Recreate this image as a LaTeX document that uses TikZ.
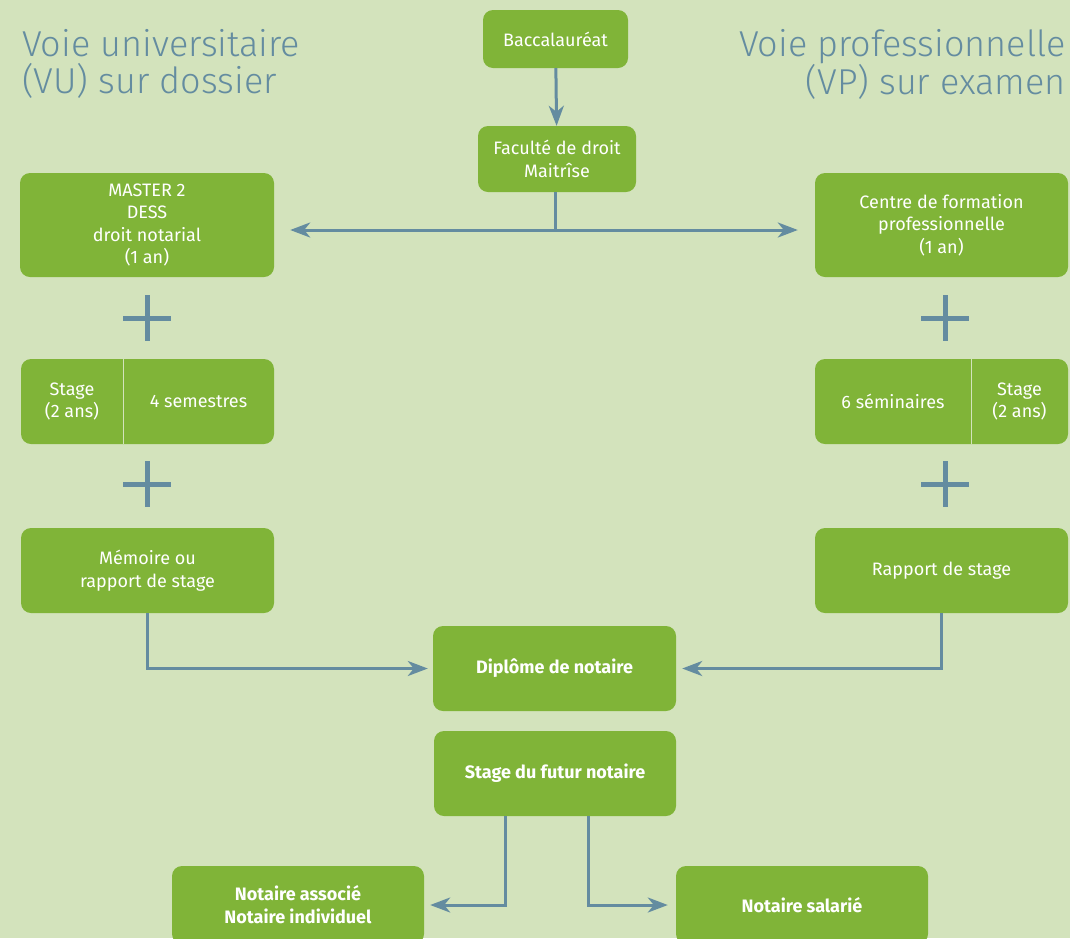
\documentclass[tikz,border=0pt]{standalone}
\usepackage{fontspec}
\setmainfont{Fira Sans}
\newfontfamily\lightfont{Fira Sans Light}
\usetikzlibrary{arrows.meta}
\definecolor{bg}{HTML}{D3E3BC}
\definecolor{gr}{HTML}{80B438}
\definecolor{bl}{HTML}{648CA0}
\begin{document}
\begin{tikzpicture}[x=1pt,y=-1pt,
 box/.style={fill=gr, rounded corners=10pt, text=white, align=center, inner sep=0pt, font=\fontsize{18}{22.5}\selectfont},
 bbox/.style={box, font=\fontsize{18}{23}\selectfont\bfseries},
 txt/.style={text=white, align=center, inner sep=0pt, font=\fontsize{18}{22.5}\selectfont},
 conn/.style={draw=bl, line width=3pt, -{Stealth[length=20pt,width=15pt,inset=6pt]}},
 line/.style={draw=bl, line width=3pt},
 plus/.style={draw=bl, line width=5pt},
 divider/.style={draw=bg, line width=1pt},
 title/.style={text=bl, font=\lightfont\fontsize{36}{37}\selectfont, inner sep=0pt}
]
\fill[bg] (0,0) rectangle (1070,938);
\useasboundingbox (0,0) rectangle (1070,938);

% titles
\node[title, anchor=north west, align=left] (tvu) at (22,29) {Voie universitaire\\(VU) sur dossier};
\node[title, anchor=north east, align=right] (tvp) at (1066,29) {Voie professionnelle\\(VP) sur examen};

% top boxes
\node[box, minimum width=145pt, minimum height=58pt] (bac) at (555.5,39) {Baccalauréat};
\node[box, minimum width=158pt, minimum height=66pt] (fac) at (557,159) {Faculté de droit\\Maitrîse};

% left column
\node[box, minimum width=254pt, minimum height=104pt] (master) at (147,225) {MASTER 2\\DESS\\droit notarial\\(1 an)};
\node[box, minimum width=253pt, minimum height=85pt] (stl) at (147.5,401.5) {};
\draw[divider] (123,359) -- (123,444);
\node[txt] (stla) at (72,401.5) {Stage\\(2 ans)};
\node[txt] (stlb) at (198.5,401.5) {4 semestres};
\node[box, minimum width=253pt, minimum height=85pt] (mem) at (147.5,570.5) {Mémoire ou\\rapport de stage};

% right column
\node[box, minimum width=253pt, minimum height=104pt] (cfp) at (941.5,225) {Centre de formation\\professionnelle\\(1 an)};
\node[box, minimum width=253pt, minimum height=85pt] (str) at (941.5,401.5) {};
\draw[divider] (971,359) -- (971,444);
\node[txt] (stra) at (893,401.5) {6 séminaires};
\node[txt] (strb) at (1019.5,401.5) {Stage\\(2 ans)};
\node[box, minimum width=253pt, minimum height=85pt] (rap) at (941.5,570.5) {Rapport de stage};

% centre bottom
\node[bbox, minimum width=243pt, minimum height=85pt] (dip) at (554.5,668.5) {Diplôme de notaire};
\node[bbox, minimum width=242pt, minimum height=85pt] (fut) at (555,773.5) {Stage du futur notaire};
\node[bbox, minimum width=252pt, minimum height=78pt] (asso) at (298,905) {Notaire associé\\Notaire individuel};
\node[bbox, minimum width=252pt, minimum height=78pt] (sal) at (802,905) {Notaire salarié};

% plus signs
\draw[plus] (123,318) -- (171,318) (147,295) -- (147,341);
\draw[plus] (123,484) -- (171,484) (147,461) -- (147,507);
\draw[plus] (921,318) -- (969,318) (945,295) -- (945,341);
\draw[plus] (921,484) -- (969,484) (945,461) -- (945,507);

% connectors
\draw[conn] (bac) -- (fac);
\coordinate (j) at (555,230);
\draw[line] (fac.south -| j) -- (j);
\draw[conn, shorten >=16pt] (j) -- (master.east |- j);
\draw[conn, shorten >=17pt] (j) -- (cfp.west |- j);
\draw[conn, shorten >=5pt] (mem.south) |- (dip.west);
\draw[conn, shorten >=6pt] (rap.south) |- (dip.east);
\coordinate (s1) at (505,816);
\coordinate (s2) at (588,816);
\draw[conn, shorten >=6pt] (s1) |- (asso.east);
\draw[conn, shorten >=8pt] (s2) |- (sal.west);
\end{tikzpicture}
\end{document}
